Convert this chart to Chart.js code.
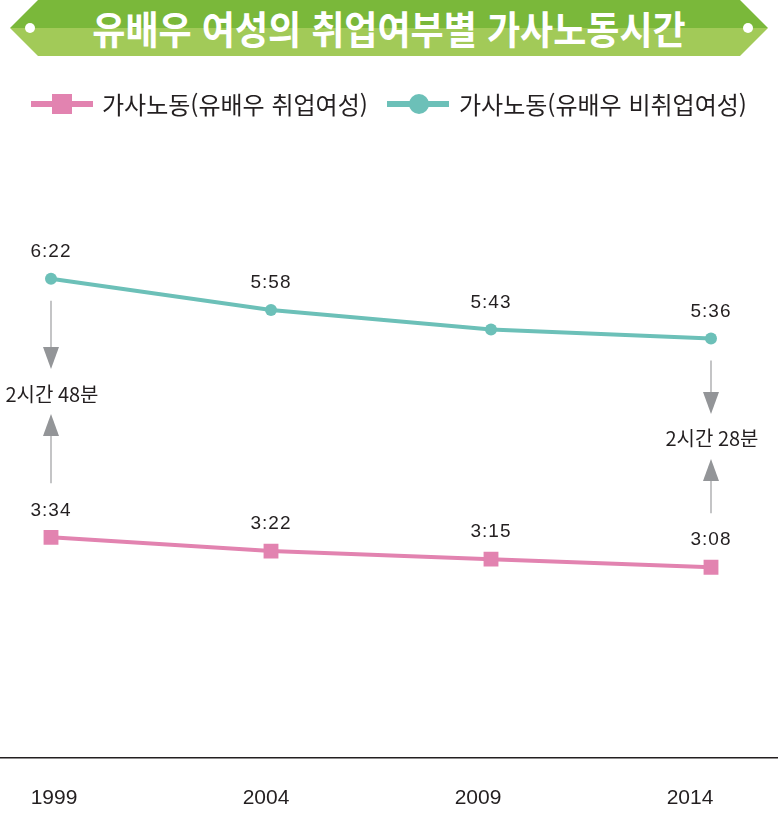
<!DOCTYPE html>
<html lang="ko">
<head>
<meta charset="utf-8">
<title>유배우 여성의 취업여부별 가사노동시간</title>
<script src="https://cdn.jsdelivr.net/npm/chart.js@4.4.0/dist/chart.umd.min.js"></script>
<style>
    html, body {
        margin: 0;
        padding: 0;
        width: 778px;
        height: 832px;
        overflow: hidden;
        background: #fff;
        font-family: "Noto Sans CJK KR", sans-serif;
        color: #231f20;
    }
    .banner {
        position: absolute;
        left: 10px;
        top: 0;
        width: 758px;
        height: 56px;
        clip-path: polygon(28px 0, 730px 0, 758px 28px, 730px 56px, 28px 56px, 0 28px);
        background: linear-gradient(#7ab83a 0, #7ab83a 50%, #a2ca58 50%, #a2ca58 100%);
    }
    .banner .dot {
        position: absolute;
        top: 23px;
        width: 10px;
        height: 10px;
        border-radius: 50%;
        background: #fff;
    }
    .banner h1 {
        margin: 0;
        position: absolute;
        left: 0;
        right: 0;
        top: 0;
        line-height: 54px;
        text-align: center;
        color: #fff;
        font-size: 36px;
        font-weight: bold;
        transform: scaleY(1.08);
    }
    .legend {
        position: absolute;
        top: 89px;
        left: 0;
        height: 30px;
        font-size: 24px;
        line-height: 30px;
    }
    .legend .item { position: absolute; top: 0; white-space: nowrap; }
    .legend .line { position: absolute; top: 12px; height: 6px; }
    .legend .mark { position: absolute; }
    .legend .label { position: absolute; top: 0; }
    #wrap {
        position: absolute;
        left: 0;
        top: 0;
        width: 778px;
        height: 860px;
    }
</style>
</head>
<body>
<div id="wrap"><canvas id="houseworkChart"></canvas></div>

<div class="banner">
    <div class="dot" style="left: 15px;"></div>
    <div class="dot" style="left: 733px;"></div>
    <h1>유배우 여성의 취업여부별 가사노동시간</h1>
</div>

<div class="legend" id="legend"></div>

<script>
// Data (minutes per day)
const years = ['1999', '2004', '2009', '2014'];
const employedMinutes = [214, 202, 195, 188];      // 3:34 3:22 3:15 3:08
const nonEmployedMinutes = [382, 358, 343, 336];   // 6:22 5:58 5:43 5:36
const seriesNames = ['가사노동(유배우 취업여성)', '가사노동(유배우 비취업여성)'];

const PINK = '#e283b0';
const TEAL = '#6cc0b8';
const TEXT = '#231f20';

function toClock(min) {
    return Math.floor(min / 60) + ':' + String(min % 60).padStart(2, '0');
}

function toGap(min) {
    return Math.floor(min / 60) + '시간 ' + (min % 60) + '분';
}

// Legend built by hand: line with marker in the middle
function buildLegend() {
    const legend = document.getElementById('legend');
    legend.innerHTML = `
        <div class="item" style="left:0">
            <div class="line" style="left:31px;width:62px;background:${PINK}"></div>
            <div class="mark" style="left:52px;top:5px;width:20px;height:20px;background:${PINK}"></div>
            <div class="label" style="left:102px">${seriesNames[0]}</div>
        </div>
        <div class="item" style="left:0">
            <div class="line" style="left:387px;width:62px;background:${TEAL}"></div>
            <div class="mark" style="left:409px;top:5px;width:20px;height:20px;border-radius:50%;background:${TEAL}"></div>
            <div class="label" style="left:459px">${seriesNames[1]}</div>
        </div>
    `;
}

// Value labels, gap arrows and the full width base line
const annotations = {
    id: 'annotations',
    afterDatasetsDraw(chart) {
        const ctx = chart.ctx;
        const area = chart.chartArea;

        ctx.save();
        ctx.strokeStyle = TEXT;
        ctx.lineWidth = 1.5;
        ctx.beginPath();
        ctx.moveTo(0, area.bottom);
        ctx.lineTo(chart.width, area.bottom);
        ctx.stroke();

        // point labels
        ctx.fillStyle = TEXT;
        ctx.font = '19px "Liberation Sans", Arial, sans-serif';
        ctx.letterSpacing = '1px';
        ctx.textAlign = 'center';
        ctx.textBaseline = 'middle';
        chart.data.datasets.forEach((ds, di) => {
            chart.getDatasetMeta(di).data.forEach((pt, i) => {
                ctx.fillText(toClock(ds.data[i]), pt.x, pt.y - 27);
            });
        });
        ctx.letterSpacing = '0px';

        // gap arrows at first and last year
        const teal = chart.getDatasetMeta(0).data;
        const pink = chart.getDatasetMeta(1).data;
        [0, years.length - 1].forEach(i => {
            const x = teal[i].x;
            const top = teal[i].y;
            const bot = pink[i].y;
            const mid = (top + bot) / 2 - 14;

            ctx.strokeStyle = '#9d9ea1';
            ctx.lineWidth = 1.2;
            ctx.beginPath();
            ctx.moveTo(x, top + 22);
            ctx.lineTo(x, mid - 47);
            ctx.moveTo(x, mid + 42);
            ctx.lineTo(x, bot - 54);
            ctx.stroke();

            ctx.fillStyle = '#939598';
            ctx.beginPath();
            ctx.moveTo(x - 8, mid - 47);
            ctx.lineTo(x + 8, mid - 47);
            ctx.lineTo(x, mid - 25);
            ctx.closePath();
            ctx.fill();
            ctx.beginPath();
            ctx.moveTo(x - 8, mid + 42);
            ctx.lineTo(x + 8, mid + 42);
            ctx.lineTo(x, mid + 20);
            ctx.closePath();
            ctx.fill();

            ctx.fillStyle = TEXT;
            ctx.font = '20px "Noto Sans CJK KR", sans-serif';
            ctx.fillText(toGap(nonEmployedMinutes[i] - employedMinutes[i]), x + 1, mid);
        });
        ctx.restore();
    }
};

function initChart() {
    const ctx = document.getElementById('houseworkChart');

    const data = {
        labels: years,
        datasets: [{
            label: seriesNames[1],
            data: nonEmployedMinutes,
            xAxisID: 'x',
            yAxisID: 'yNon',
            borderColor: TEAL,
            backgroundColor: TEAL,
            borderWidth: 4,
            pointStyle: 'circle',
            pointRadius: 6,
            pointBackgroundColor: TEAL,
            pointBorderWidth: 0,
            tension: 0
        }, {
            label: seriesNames[0],
            data: employedMinutes,
            xAxisID: 'x',
            yAxisID: 'yEmp',
            borderColor: PINK,
            backgroundColor: PINK,
            borderWidth: 4,
            pointStyle: 'rect',
            pointRadius: 10.5,
            pointBackgroundColor: PINK,
            pointBorderWidth: 0,
            tension: 0
        }]
    };

    const config = {
        type: 'line',
        data: data,
        options: {
            responsive: true,
            maintainAspectRatio: false,
            animation: false,
            layout: {
                padding: { top: 150, left: 51, right: 67, bottom: 21 }
            },
            plugins: {
                legend: { display: false },
                tooltip: { enabled: false }
            },
            scales: {
                x: {
                    type: 'category',
                    display: false,
                    offset: false
                },
                // year labels sit a little left of the points in the original
                years: {
                    type: 'linear',
                    axis: 'x',
                    position: 'bottom',
                    min: -0.0142,
                    max: 3.099,
                    grid: { display: false, drawTicks: false },
                    border: { display: false },
                    ticks: {
                        stepSize: 1,
                        includeBounds: false,
                        padding: 27,
                        color: TEXT,
                        font: { family: '"Liberation Sans", Arial, sans-serif', size: 21, lineHeight: 1.3 },
                        callback: function(value) {
                            return years[value];
                        }
                    }
                },
                yNon: {
                    display: false,
                    min: 13.2,
                    max: 481.2
                },
                yEmp: {
                    display: false,
                    min: 22.4,
                    max: 550.7
                }
            }
        },
        plugins: [annotations]
    };

    new Chart(ctx, config);
}

buildLegend();
initChart();
</script>
</body>
</html>
